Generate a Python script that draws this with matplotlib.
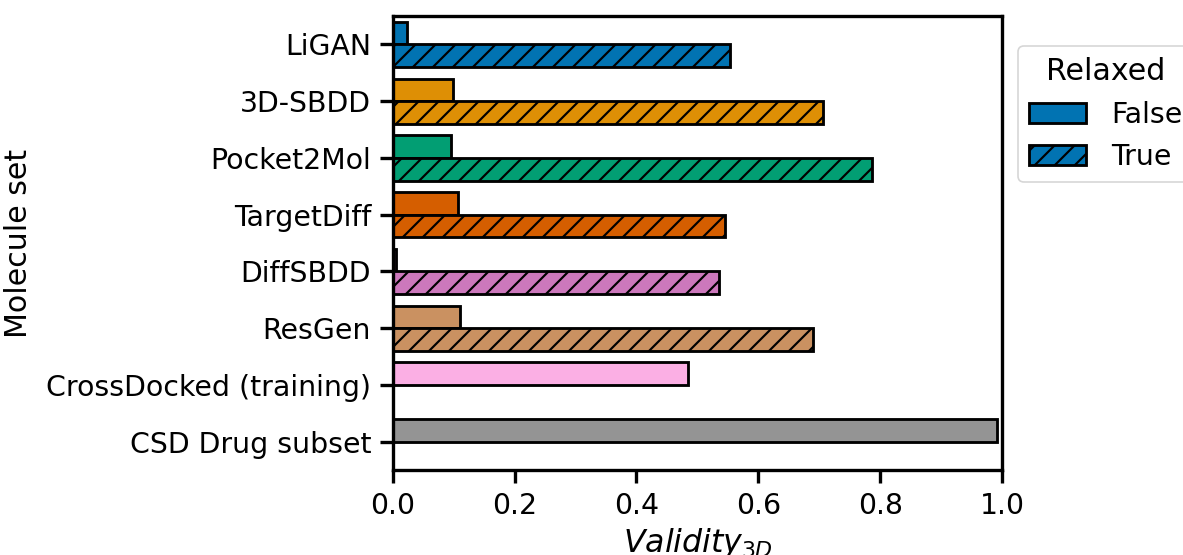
import numpy as np
import matplotlib
matplotlib.use("Agg")
import matplotlib.pyplot as plt
from matplotlib.patches import Patch

# data
molecule_sets = ["LiGAN", "3D-SBDD", "Pocket2Mol", "TargetDiff", "DiffSBDD",
                 "ResGen", "CrossDocked (training)", "CSD Drug subset"]
validity_unrelaxed = [0.024, 0.099, 0.096, 0.107, 0.005, 0.111, 0.484, 0.991]
validity_relaxed = [0.553, 0.706, 0.787, 0.546, 0.535, 0.690, np.nan, np.nan]
colors = ["#0173B2", "#DE8F05", "#029E73", "#D55E00", "#CC78BC",
          "#CA9161", "#FBAFE4", "#949494"]

plt.rcParams['font.family'] = ['DejaVu Sans']
plt.rcParams['hatch.linewidth'] = 1.3

DPI = 120
fig = plt.figure(figsize=(1183 / DPI, 555 / DPI), dpi=DPI)
ax = fig.add_axes([0.332, 0.153, 0.515, 0.818])

y = np.arange(len(molecule_sets))
h = 0.4
ax.barh(y - h / 2, validity_unrelaxed, height=h, color=colors,
        edgecolor='black', linewidth=1.7)
ax.barh(y + h / 2, validity_relaxed, height=h, color=colors,
        edgecolor='black', linewidth=1.7, hatch='//')

ax.set_xlim(0, 1.0)
ax.set_ylim(len(molecule_sets) - 0.5, -0.5)
ax.set_yticks(y)
ax.set_yticklabels(molecule_sets)
ax.set_xticks(np.arange(0, 1.01, 0.2))
ax.set_xticklabels([f"{t:.1f}" for t in np.arange(0, 1.01, 0.2)])

for s in ax.spines.values():
    s.set_linewidth(2.0)
ax.tick_params(axis='both', length=8, width=2.0, labelsize=17, pad=5)

ax.set_ylabel("Molecule set", fontsize=18, labelpad=8)
ax.set_xlabel(r"$Validity_{3D}$", fontsize=19, labelpad=4)

handles = [Patch(facecolor=colors[0], edgecolor='black', linewidth=1.7, label='False'),
           Patch(facecolor=colors[0], edgecolor='black', linewidth=1.7, hatch='//', label='True')]
leg = ax.legend(handles=handles, title="Relaxed", loc='upper left',
                bbox_to_anchor=(1.003, 0.965), fontsize=17, title_fontsize=18,
                handlelength=2.0, handletextpad=0.9)

fig.savefig("out.png", dpi=DPI)
